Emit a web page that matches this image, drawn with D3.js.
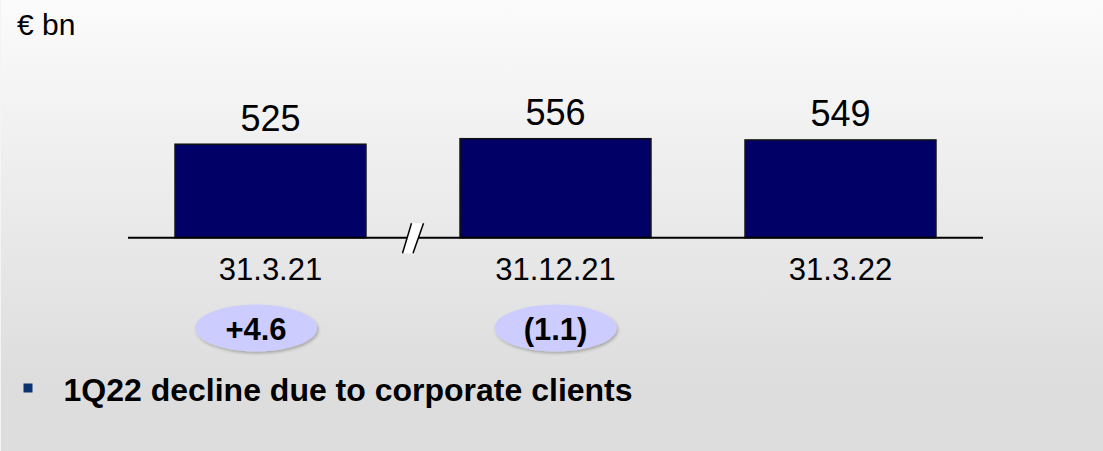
<!DOCTYPE html>
<html>
<head>
<meta charset="utf-8">
<script src="https://cdn.jsdelivr.net/npm/d3@7"></script>
<style>
  html, body { margin: 0; padding: 0; overflow: hidden; }
  svg { display: block; font-family: "Liberation Sans", Arial, sans-serif; }
</style>
</head>
<body>
<div id="chart"></div>
<script>
// ---- data ----
const categories = ["31.3.21", "31.12.21", "31.3.22"];
const values = [525, 556, 549];
const changeLabels = ["+4.6", "(1.1)"];
const changeAnchors = ["31.3.21", "31.12.21"];
const unitLabel = "€ bn";
const bulletText = "1Q22 decline due to corporate clients";

// ---- layout ----
const W = 1103, H = 451;
const baseY = 237.7;

const svg = d3.select("#chart").append("svg")
  .attr("width", W).attr("height", H);

const defs = svg.append("defs");
const bg = defs.append("linearGradient").attr("id", "bg")
  .attr("x1", 0).attr("y1", 0).attr("x2", 0).attr("y2", 1);
bg.append("stop").attr("offset", "0%").attr("stop-color", "#fbfbfb");
bg.append("stop").attr("offset", "85%").attr("stop-color", "#dddddd");
bg.append("stop").attr("offset", "100%").attr("stop-color", "#dddddd");

const shadow = defs.append("filter").attr("id", "shadow")
  .attr("x", "-20%").attr("y", "-30%").attr("width", "150%").attr("height", "170%");
shadow.append("feDropShadow").attr("dx", 1.5).attr("dy", 2).attr("stdDeviation", 1.5)
  .attr("flood-color", "#000").attr("flood-opacity", 0.25);

svg.append("rect").attr("width", W).attr("height", H).attr("fill", "url(#bg)");
svg.append("line").attr("x1", 0.5).attr("x2", 0.5).attr("y1", 0).attr("y2", H)
  .attr("stroke", "#f4f4f4").attr("stroke-width", 1);

// scales
const x = d3.scaleBand().domain(categories).range([128, 983])
  .paddingInner(0.33).paddingOuter(0.165);
const y = d3.scaleLinear().domain([0, 556]).range([baseY, baseY - 99]);

// unit label
svg.append("text").attr("x", 17).attr("y", 35)
  .attr("font-size", 30).attr("fill", "#000").text(unitLabel);

// bars
svg.selectAll("rect.bar").data(values).enter().append("rect")
  .attr("class", "bar")
  .attr("x", (d, i) => x(categories[i]))
  .attr("y", d => y(d))
  .attr("width", x.bandwidth())
  .attr("height", d => y(0) - y(d))
  .attr("fill", "#000066")
  .attr("stroke", "#111")
  .attr("stroke-width", 1.5);

// value labels
svg.selectAll("text.val").data(values).enter().append("text")
  .attr("class", "val")
  .attr("x", (d, i) => x(categories[i]) + x.bandwidth() / 2)
  .attr("y", d => y(d) - 13.5)
  .attr("text-anchor", "middle")
  .attr("font-size", 36)
  .attr("fill", "#000")
  .text(d => d);

// axis baseline
svg.append("line").attr("x1", x.range()[0]).attr("x2", x.range()[1])
  .attr("y1", baseY).attr("y2", baseY)
  .attr("stroke", "#000").attr("stroke-width", 2);

// axis break between first and second category
const bx = (x(categories[0]) + x.bandwidth() + x(categories[1])) / 2;
const bTop = baseY - 14.5, bBot = baseY + 15.5;
svg.append("polygon")
  .attr("points", [[bx - 10.5, bBot], [bx - 1.5, bTop], [bx + 10.5, bTop], [bx, bBot]].map(p => p.join(",")).join(" "))
  .attr("fill", "#fff");
[[bx - 10.5, bx - 1.5], [bx, bx + 10.5]].forEach(([a, b]) => {
  svg.append("line").attr("x1", a).attr("y1", bBot).attr("x2", b).attr("y2", bTop)
    .attr("stroke", "#000").attr("stroke-width", 1.5);
});

// category labels
svg.selectAll("text.cat").data(categories).enter().append("text")
  .attr("class", "cat")
  .attr("x", d => x(d) + x.bandwidth() / 2)
  .attr("y", 280)
  .attr("text-anchor", "middle")
  .attr("font-size", 31)
  .attr("fill", "#000")
  .text(d => d);

// change ellipses
const ellipseDx = [-14.5, 0];
const eg = svg.selectAll("g.chg").data(changeLabels).enter().append("g")
  .attr("class", "chg")
  .attr("transform", (d, i) => `translate(${x(changeAnchors[i]) + x.bandwidth() / 2 + ellipseDx[i]},328)`);
eg.append("ellipse").attr("rx", 61).attr("ry", 23.5)
  .attr("fill", "#ccccff").attr("filter", "url(#shadow)");
eg.append("text").attr("y", 11.5).attr("text-anchor", "middle")
  .attr("font-size", 31).attr("font-weight", "bold").attr("fill", "#000")
  .text(d => d);

// bullet
svg.append("rect").attr("x", 23.5).attr("y", 383.5).attr("width", 9).attr("height", 9)
  .attr("fill", "#0a3370");
svg.append("text").attr("x", 63.5).attr("y", 401)
  .attr("font-size", 32).attr("font-weight", "bold").attr("fill", "#000")
  .text(bulletText);
</script>
</body>
</html>
